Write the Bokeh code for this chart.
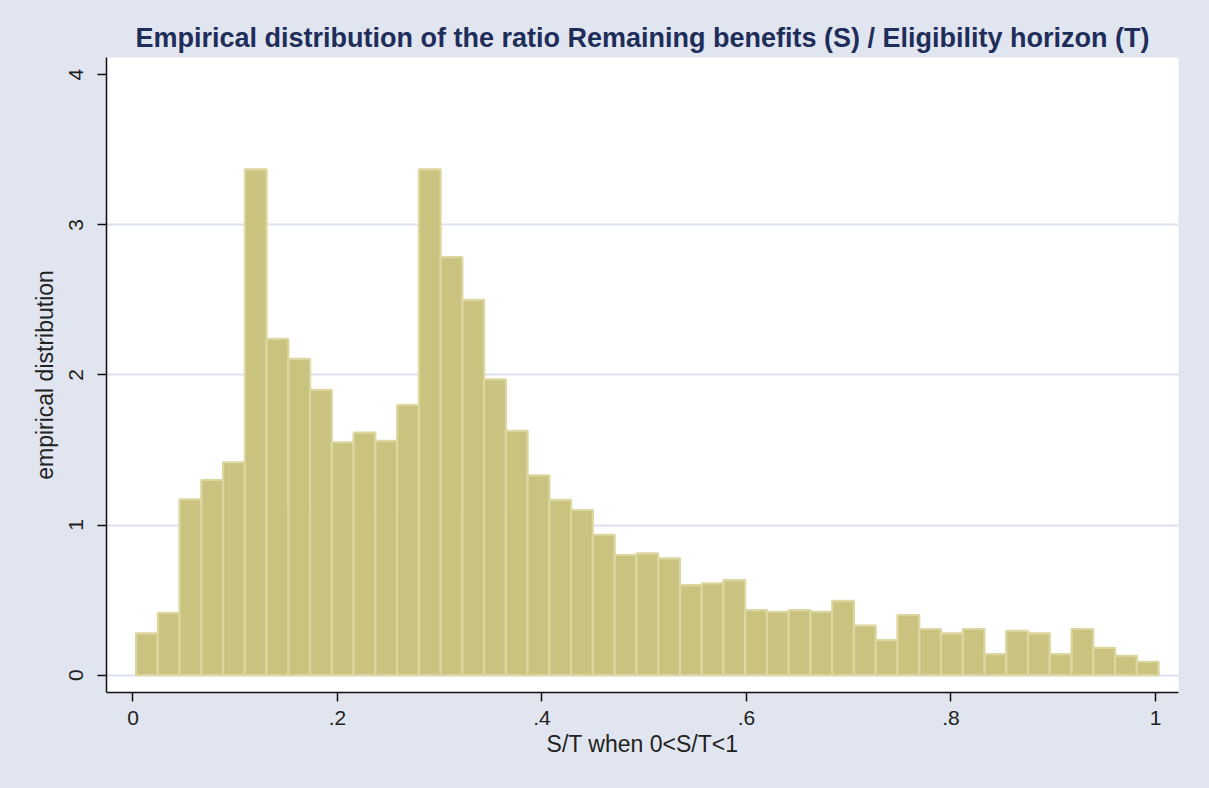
from bokeh.plotting import figure
from bokeh.models import Range1d, FixedTicker, CustomJSTickFormatter
from bokeh.embed import file_html
from bokeh.resources import INLINE

# ---- data ----
bin_start = 0.003
bin_width = 1.0 / 47
density = [0.278, 0.415, 1.171, 1.300, 1.418, 3.370, 2.240, 2.107, 1.900, 1.550,
           1.615, 1.560, 1.800, 3.370, 2.785, 2.500, 1.971, 1.627, 1.331, 1.167,
           1.100, 0.935, 0.800, 0.811, 0.778, 0.600, 0.611, 0.633, 0.433, 0.422,
           0.433, 0.422, 0.495, 0.329, 0.233, 0.400, 0.307, 0.278, 0.307, 0.140,
           0.295, 0.278, 0.140, 0.307, 0.182, 0.129, 0.089]
x_ticks = [0, 0.2, 0.4, 0.6, 0.8, 1.0]
x_tick_labels = ["0", ".2", ".4", ".6", ".8", "1"]
y_ticks = [0, 1, 2, 3, 4]
y_tick_labels = ["0", "1", "2", "3", "4"]
grid_ticks = [0, 1, 2, 3]

title_text = "Empirical distribution of the ratio Remaining benefits (S) / Eligibility horizon (T)"
x_label = "S/T when 0<S/T<1"
y_label = "empirical distribution"

BG = "#e1e5ef"
FONT = "Liberation Sans, Arial, sans-serif"

lefts = [bin_start + i * bin_width for i in range(len(density))]
rights = [l + bin_width for l in lefts]

p = figure(width=1209, height=788, output_backend="svg", toolbar_location=None,
           x_range=Range1d(-0.0259, 1.0225), y_range=Range1d(-0.116, 4.115),
           min_border_left=106, min_border_right=31, min_border_top=57, min_border_bottom=96,
           title=title_text)

p.border_fill_color = BG
p.background_fill_color = "white"
p.outline_line_color = None

p.quad(left=lefts, right=rights, bottom=0, top=density,
       fill_color="#c9c37f", line_color="#dcd7a0", line_width=2.2)

# title
p.title.align = "center"
p.title.text_font = FONT
p.title.text_font_size = "27px"
p.title.text_font_style = "bold"
p.title.text_color = "#1e2d5a"
p.title.standoff = 9

def fmt(vals, labs):
    return CustomJSTickFormatter(args=dict(tvals=vals, tlabs=labs), code="""
        for (let i = 0; i < tvals.length; i++) {
            if (Math.abs(tvals[i] - tick) < 1e-9) { return tlabs[i]; }
        }
        return '';
    """)

p.xaxis.ticker = FixedTicker(ticks=x_ticks)
p.xaxis.formatter = fmt(x_ticks, x_tick_labels)
p.yaxis.ticker = FixedTicker(ticks=y_ticks)
p.yaxis.formatter = fmt(y_ticks, y_tick_labels)
p.yaxis.major_label_orientation = "vertical"

p.xaxis.axis_label = x_label
p.yaxis.axis_label = y_label

for ax in (p.xaxis, p.yaxis):
    ax.axis_line_color = "#111111"
    ax.axis_line_width = 1.5
    ax.major_tick_line_color = "#111111"
    ax.major_tick_line_width = 1.5
    ax.major_tick_out = 9
    ax.major_tick_in = 0
    ax.minor_tick_line_color = None
    ax.major_label_text_font = FONT
    ax.major_label_text_font_size = "21px"
    ax.major_label_text_color = "#222222"
    ax.axis_label_text_font = FONT
    ax.axis_label_text_font_size = "23px"
    ax.axis_label_text_font_style = "normal"
    ax.axis_label_text_color = "#222222"

p.xaxis.major_label_standoff = 9
p.xaxis.axis_label_standoff = 3
p.yaxis.major_label_standoff = 14
p.yaxis.axis_label_standoff = 9

p.xgrid.visible = False
p.ygrid.ticker = FixedTicker(ticks=grid_ticks)
p.ygrid.grid_line_color = "#dce1ee"
p.ygrid.grid_line_width = 2

html = file_html(p, INLINE)
html = html.replace("<head>", "<head><style>html,body{margin:0;padding:0;background:" + BG + ";overflow:hidden}</style>", 1)
open("out.html", "w").write(html)
